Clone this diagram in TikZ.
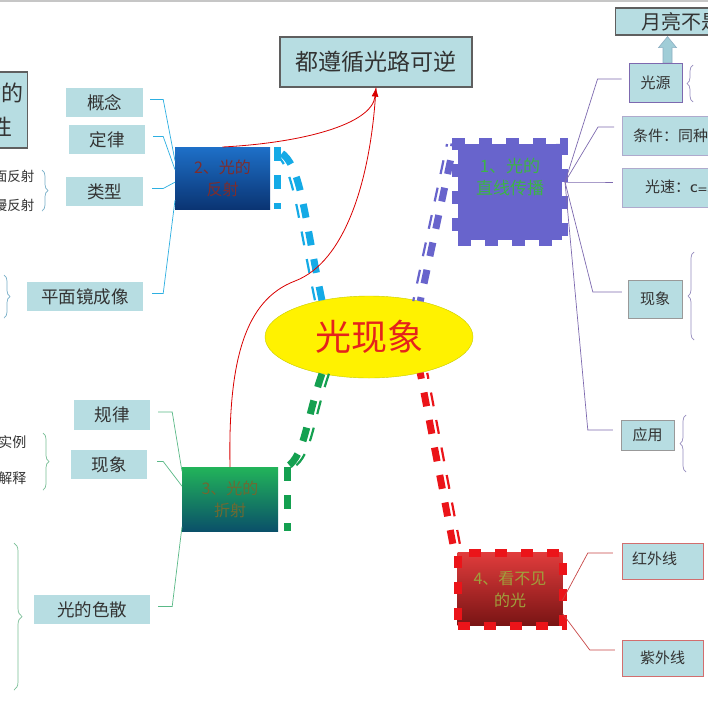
\documentclass[tikz,border=0pt]{standalone}
\usepackage{fontspec}
\setmainfont{Noto Sans CJK SC}
\usetikzlibrary{shapes.geometric,calc,arrows.meta,decorations.pathreplacing}

\definecolor{leaffill}{RGB}{183,221,226}
\definecolor{leafline}{RGB}{95,95,95}
\definecolor{cyanline}{RGB}{45,175,225}
\definecolor{purpleline}{RGB}{125,105,175}
\definecolor{greenline}{RGB}{90,185,135}
\definecolor{redline}{RGB}{200,70,70}
\definecolor{nodepurple}{RGB}{104,100,204}
\definecolor{dashcyan}{RGB}{20,170,230}
\definecolor{dashgreen}{RGB}{20,160,80}
\definecolor{dashred}{RGB}{235,20,25}
\definecolor{textgreen}{RGB}{60,180,70}
\definecolor{textolive}{RGB}{160,160,60}
\definecolor{hubred}{RGB}{229,35,27}
\definecolor{hubline}{RGB}{200,205,0}
\definecolor{bracecyan}{RGB}{120,175,200}
\definecolor{bracegreen}{RGB}{120,190,150}
\definecolor{bracepurple}{RGB}{150,140,190}
\definecolor{lightpurple}{RGB}{175,170,205}
\definecolor{lightred}{RGB}{210,110,110}
\definecolor{arrowfill}{RGB}{160,205,215}
\definecolor{arrowline}{RGB}{140,175,195}

\tikzset{
  leaf/.style={fill=leaffill, text=black!80, inner sep=0pt, align=center},
  wh/.style 2 args={minimum width=#1pt, minimum height=#2pt},
  bigfont/.style={font=\fontsize{17.5}{20}\selectfont},
  smallfont/.style={font=\fontsize{15}{18}\selectfont},
  branch/.style={inner sep=0pt, outer sep=0pt, align=center, font=\fontsize{16}{22}\selectfont},
  bigdash/.style={line width=7pt, dash pattern=on 14pt off 14pt},
  smalldash/.style={line width=2.2pt, dash pattern=on 14pt off 14pt},
  twig/.style={line width=0.7pt},
  bracket/.style={decorate, decoration={brace, amplitude=6pt}, line width=0.7pt},
}

\begin{document}
\begin{tikzpicture}[x=1pt,y=-1pt]
  \useasboundingbox (0,0) rectangle (708,707);
  \clip (0,0) rectangle (708,707);
  \fill[white] (0,0) rectangle (708,707);
  \draw[gray!45, line width=1.5pt] (0,1) -- (708,1);

  % 中心主题
  \node[ellipse, fill=yellow, draw=hubline, wh={208}{82}, inner sep=0pt,
        text=hubred, font=\fontsize{36}{40}\selectfont] (hub) at (369,337) {光现象};

  % 四个分支
  \node[branch, fill=nodepurple, draw=nodepurple, line width=12pt, dash pattern=on 13pt off 14pt,
        text=textgreen, wh={104}{96}, font=\fontsize{17}{22}\selectfont] (zhixian) at (510,192)
        {\begin{tabular}{@{}c@{}}1、光的\\直线传播\\[26pt]\end{tabular}};
  \node[branch, top color={rgb,255:red,30;green,112;blue,200}, bottom color={rgb,255:red,10;green,52;blue,115},
        text={rgb,255:red,125;green,45;blue,45}, wh={95}{62}] (fanshe) at (222.5,178) {2、光的\\反射};
  \node[branch, top color={rgb,255:red,34;green,180;blue,90}, bottom color={rgb,255:red,10;green,80;blue,105},
        text={rgb,255:red,110;green,105;blue,50}, wh={96}{64}] (zheshe) at (230,499) {3、光的\\折射};
  \node[branch, top color={rgb,255:red,225;green,60;blue,60}, bottom color={rgb,255:red,120;green,20;blue,20},
        draw=dashred, line width=8pt, dash pattern=on 12pt off 14pt,
        text=textolive, wh={105}{73}] (kanbu) at (510,589) {4、看不见\\的光};

  % 粗虚线连接
  \draw[bigdash, dashcyan] (hub.142) .. controls (303,210) and (301,165) .. ($(fanshe.north east)+(10,5)$);
  \draw[smalldash, dashcyan, transform canvas={xshift=-7pt}] (hub.142) .. controls (303,210) and (301,165) .. ($(fanshe.north east)+(10,5)$);
  \draw[bigdash, dashcyan] ($(fanshe.north east)+(7,0)$) -- ($(fanshe.south east)+(7,0)$);
  \draw[bigdash, nodepurple, dash phase=10pt] (hub.35) -- ($(zhixian.north west)+(-4,0)$);
  \draw[smalldash, nodepurple, dash phase=10pt, transform canvas={xshift=-7pt}] (hub.35) -- ($(zhixian.north west)+(-4,0)$);
  \draw[bigdash, dashgreen] (hub.218) .. controls (306,420) and (305,455) .. ($(zheshe.north east)+(9,0)$);
  \draw[smalldash, dashgreen, transform canvas={xshift=7pt}] (hub.218) .. controls (306,420) and (305,455) .. ($(zheshe.north east)+(9,0)$);
  \draw[bigdash, dashgreen] ($(zheshe.north east)+(9,0)$) -- ($(zheshe.south east)+(9,0)$);
  \draw[bigdash, dashred, dash phase=8pt] (hub.-35) -- ($(kanbu.north west)+(-3,0)$);
  \draw[smalldash, dashred, dash phase=8pt, transform canvas={xshift=7pt}] (hub.-35) -- ($(kanbu.north west)+(-3,0)$);

  % 光路可逆
  \node[leaf, draw=leafline, line width=1.2pt, wh={192}{50}, font=\fontsize{23}{26}\selectfont] (zunxun) at (376,62) {都遵循光路可逆};
  \draw[red!85!black, line width=0.8pt, -{Latex[length=9pt,width=7pt]}] (fanshe.north) .. controls (300,143) and (372,125) .. (zunxun.south);
  \draw[red!85!black, line width=0.8pt] (zheshe.north) .. controls (228,360) and (245,300) .. (295,281)
        .. controls (345,262) and (371,180) .. (zunxun.south);
  \node[leaf, draw=leafline, line width=1.2pt, anchor=east, wh={0}{76}, inner xsep=4pt,
        font=\fontsize{22}{34}\selectfont] (gongtong) at (28,110) {反射折射的\\共同特性};

  % 光的反射
  \node[leaf, bigfont, wh={77}{29}] (gainian) at (104.5,102.5) {概念};
  \node[leaf, bigfont, wh={76}{29}] (dinglv) at (107,139.5) {定律};
  \node[leaf, bigfont, wh={77}{29}] (leixing) at (104.5,191.5) {类型};
  \node[leaf, bigfont, wh={116}{29}] (pingmian) at (85,296.5) {平面镜成像};
  \node[anchor=east, text=black!80, align=right, font=\fontsize{13.5}{29}\selectfont] (leixingtxt) at (38,191) {镜面反射\\漫反射};
  \draw[cyanline, twig] (fanshe.160) -- ($(gainian.east)+(20,-3)$) -- ($(gainian.east)+(7,-3)$);
  \draw[cyanline, twig] (fanshe.170) -- ($(dinglv.east)+(18,-3)$) -- ($(dinglv.east)+(8,-3)$);
  \draw[cyanline, twig] (fanshe.185) -- ($(leixing.east)+(20,-3)$) -- ($(leixing.east)+(9,-3)$);
  \draw[cyanline, twig] (fanshe.205) -- ($(pingmian.east)+(20,-3)$) -- ($(pingmian.east)+(9,-3)$);
  \draw[bracket, bracecyan] (42,170) -- (42,211);
  \draw[bracket, bracecyan] (4,275) -- (4,318);

  % 光的折射
  \node[leaf, bigfont, wh={76}{30}] (guilv) at (112,415) {规律};
  \node[leaf, bigfont, wh={76}{29}] (xianxiangz) at (109,464.5) {现象};
  \node[leaf, bigfont, wh={116}{29}] (sesan) at (92,609.5) {光的色散};
  \node[anchor=east, text=black!80, align=right, font=\fontsize{14}{36}\selectfont] (shili) at (30,460) {实例\\解释};
  \draw[greenline, twig] (zheshe.150) -- ($(guilv.east)+(22,-3)$) -- ($(guilv.east)+(8,-3)$);
  \draw[greenline, twig] (zheshe.165) -- ($(xianxiangz.east)+(16,-3)$) -- ($(xianxiangz.east)+(10,-3)$);
  \draw[greenline, twig] (zheshe.210) -- ($(sesan.east)+(22,-3)$) -- ($(sesan.east)+(8,-3)$);
  \draw[bracket, bracegreen] (43,433) -- (43,490);
  \draw[bracket, bracegreen, decoration={amplitude=8pt}] (14,543) -- (14,690);

  % 光的直线传播
  \node[leaf, draw=leafline, line width=1.2pt, anchor=west, wh={0}{27}, inner xsep=26pt,
        font=\fontsize{20}{24}\selectfont] (yueliang) at (615,21.5) {月亮不是光源};
  \node[leaf, smallfont, draw=purpleline, line width=0.9pt, wh={53}{39}] (guangyuan) at (655.5,82.5) {光源};
  \node[leaf, smallfont, draw=lightpurple, anchor=west, wh={0}{39}, inner xsep=11pt]
        (tiaojian) at (622,135.5) {条件：同种均匀介质};
  \node[leaf, smallfont, draw=lightpurple, anchor=west, wh={0}{39}, inner xsep=23pt]
        (guangsu) at (622,187.5) {光速：{\sffamily\bfseries\fontsize{11}{13}\selectfont C=3×10$^8$m/s}};
  \node[leaf, smallfont, draw=gray!80, wh={54}{38}] (xianxiangl) at (655,299) {现象};
  \node[leaf, smallfont, draw=gray!80, wh={53}{30}] (yingyong) at (647.5,435) {应用};
  \coordinate (tip) at ($(guangyuan.north |- yueliang.south)+(12,1)$);
  \coordinate (tail) at ($(guangyuan.north)+(12,0)$);
  \filldraw[fill=arrowfill, draw=arrowline, line width=0.6pt]
        ($(tail)+(-4.5,0)$) -- ($(tip)+(-4.5,11)$) -- ($(tip)+(-9,11)$) -- (tip)
        -- ($(tip)+(9,11)$) -- ($(tip)+(4.5,11)$) -- ($(tail)+(4.5,0)$) -- cycle;
  \coordinate (zxr) at ($(zhixian.east)+(3,-10)$);
  \draw[purpleline, twig] (zxr) -- ($(guangyuan.west)+(-31,-3.5)$) -- ($(guangyuan.west)+(-7,-3.5)$);
  \draw[purpleline, twig] (zxr) -- ($(tiaojian.west)+(-24,-8.5)$) -- ($(tiaojian.west)+(-8,-8.5)$);
  \draw[purpleline, twig] (zxr) -- ($(guangsu.west)+(-24,-5.5)$) -- ($(guangsu.west)+(-9,-5.5)$);
  \draw[purpleline, twig] (zxr) -- ($(xianxiangl.west)+(-35,-7)$) -- ($(xianxiangl.west)+(-6,-7)$);
  \draw[purpleline, twig] (zxr) -- ($(yingyong.west)+(-33,-5)$) -- ($(yingyong.west)+(-8,-5)$);
  \draw[bracket, bracepurple] (693,102) -- (693,65);
  \draw[bracket, bracepurple] (694,340) -- (694,252);
  \draw[bracket, bracepurple] (686,472) -- (686,415);

  % 看不见的光
  \node[leaf, smallfont, draw=lightred, wh={81}{36}, text width=61pt, inner xsep=10pt,
        align=left, inner ysep=0pt] (hongwai) at (662.5,561) {\raisebox{5pt}{红外线}};
  \node[leaf, smallfont, draw=lightred, wh={81}{36}] (ziwai) at (662.5,658) {紫外线};
  \draw[redline, twig] (kanbu.-12) -- ($(hongwai.west)+(-34,-8)$) -- ($(hongwai.west)+(-9,-8)$);
  \draw[redline, twig] (kanbu.-25) -- ($(ziwai.west)+(-32,-8)$) -- ($(ziwai.west)+(-7,-8)$);
\end{tikzpicture}
\end{document}
